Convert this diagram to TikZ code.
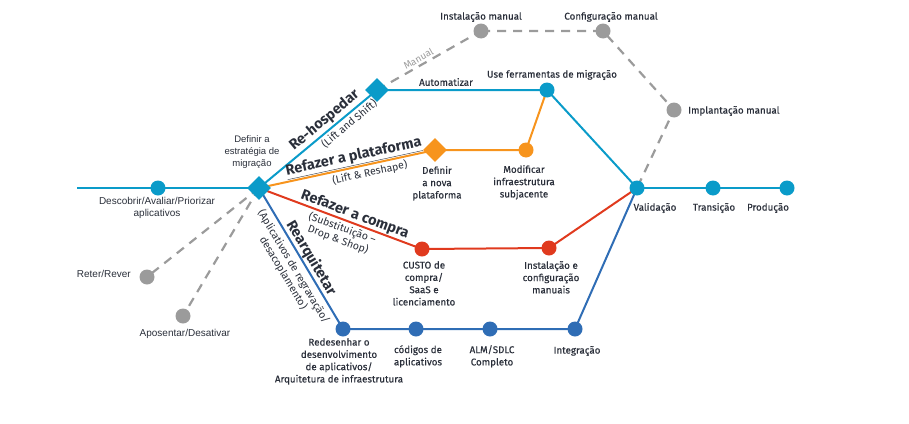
\documentclass[tikz,border=0pt]{standalone}
\usepackage{fontspec}
\setmainfont{Fira Sans}
\newfontfamily\medf{Fira Sans}[FakeBold=0.35]
\newfontfamily\arialf{Liberation Sans}
\usetikzlibrary{shapes.geometric,backgrounds}
\definecolor{lb}{HTML}{0A9BC9}
\definecolor{org}{HTML}{F7941D}
\definecolor{rd}{HTML}{E03A1E}
\definecolor{db}{HTML}{2F6DB5}
\definecolor{gr}{HTML}{9B9B9B}
\definecolor{txt}{HTML}{2A2F3A}
\tikzset{
  mdot/.style={circle, fill=#1, minimum size=15pt, inner sep=0pt},
  mdia/.style={diamond, fill=#1, minimum size=24pt, inner sep=0pt},
  lbl/.style={font=\medf\fontsize{9.8}{12.3}\selectfont, text=txt, align=center, inner sep=0pt},
  albl/.style={font=\arialf\fontsize{10}{12}\selectfont, text=txt, align=center, inner sep=0pt},
  bigl/.style={font=\fontsize{14.5}{15}\selectfont\bfseries, text=txt, inner sep=0.5pt},
  subl/.style={font=\fontsize{10.5}{12}\selectfont, text=txt, align=center, inner sep=2pt},
  ln/.style={line width=2pt, draw=#1},
  dsh/.style={line width=2.2pt, draw=gr, dash pattern=on 9pt off 7pt}
}
\begin{document}
\begin{tikzpicture}[x=1pt,y=-1pt]
\useasboundingbox (0,0) rectangle (909,423);
% nodes
\coordinate (start) at (77,188);
\node[mdot=lb] (disc) at (158,188) {};
\node[mdia=lb] (strat) at (259,188) {};
\node[mdot=gr] (reter) at (147,277) {};
\node[mdot=gr] (apos) at (183,316) {};
\node[mdia=lb] (rehost) at (377,90) {};
\node[mdot=gr] (inst) at (481,31) {};
\node[mdot=gr] (conf) at (603,31) {};
\node[mdot=gr] (impl) at (674,110) {};
\node[mdot=lb] (tools) at (547,90) {};
\node[mdia=org] (defplat) at (435,150) {};
\node[mdot=org] (modif) at (526,150) {};
\node[mdot=rd] (custo) at (422,249) {};
\node[mdot=rd] (instcfg) at (549,248) {};
\node[mdot=db] (redes) at (343,329) {};
\node[mdot=db] (codes) at (416,329) {};
\node[mdot=db] (alm) at (490,329) {};
\node[mdot=db] (integ) at (575,329) {};
\node[mdot=lb] (valid) at (637,188) {};
\node[mdot=lb] (trans) at (713,188) {};
\node[mdot=lb] (prod) at (787,188) {};
% connectors
\begin{scope}[on background layer]
\draw[ln=lb] (start) -- (disc.center) -- (strat.center);
\draw[dsh] (strat.center) -- (reter.center);
\draw[dsh] (strat.center) -- (apos.center);
\draw[ln=lb] (strat.center) -- (rehost.center)
  node[pos=0.61, sloped, above, bigl, inner sep=2pt] {Re-hospedar}
  node[pos=0.72, sloped, below, subl] {(Lift and Shift)};
\draw[dsh] (rehost.center) -- (inst.center)
  node[pos=0.43, sloped, above, subl, text=gr, font=\fontsize{9.8}{11}\selectfont] {Manual};
\draw[dsh] (inst.center) -- (conf.center) -- (impl.center) -- (valid.center);
\draw[ln=lb] (rehost.center) -- (tools.center) -- (valid.center);
\draw[ln=org] (strat.center) -- (defplat.center)
  node[pos=0.55, sloped, above, bigl] {\underline{Refazer a plataforma}}
  node[pos=0.62, sloped, below, subl] {(Lift \& Reshape)};
\draw[ln=org] (defplat.center) -- (modif.center) -- (tools.center);
\draw[ln=rd] (strat.center) -- (custo.center)
  node[pos=0.57, sloped, above, bigl] {Refazer a compra}
  node[pos=0.53, sloped, below, subl] {(Substituição –\\Drop \& Shop)};
\draw[ln=rd] (custo.center) -- (instcfg.center) -- (valid.center);
\draw[ln=db] (strat.center) -- (redes.center)
  node[pos=0.53, sloped, above, bigl] {Rearquitetar}
  node[pos=0.52, sloped, below, subl, inner sep=4pt] {(Aplicativos de regravação/\\desacoplamento)};
\draw[ln=db] (redes.center) -- (codes.center) -- (alm.center) -- (integ.center) -- (valid.center);
\draw[ln=lb] (valid.center) -- (trans.center) -- (prod.center);
\end{scope}
% labels
\node[albl, anchor=north] (tdisc) at (157,197) {Descobrir/Avaliar/Priorizar\\aplicativos};
\node[albl, anchor=east] (treter) at (131,274) {Reter/Rever};
\node[albl, anchor=north] (tapos) at (185,329) {Aposentar/Desativar};
\node[albl, anchor=south, font=\arialf\fontsize{9.5}{12}\selectfont] (tstrat) at (252,169) {Definir a\\estratégia de\\migração};
\node[lbl] (tinst) at (481,17) {Instalação manual};
\node[lbl] (tconf) at (611,17) {Configuração manual};
\node[lbl, anchor=west] (timpl) at (688,111) {Implantação manual};
\node[lbl] (ttools) at (552,75) {Use ferramentas de migração};
\node[lbl] (tauto) at (446,82) {Automatizar};
\node[lbl, anchor=north] (tdef) at (437,166) {Definir\\a nova\\plataforma};
\node[lbl, anchor=north] (tmod) at (524,165) {Modificar\\infraestrutura\\subjacente};
\node[lbl, anchor=north] (tcusto) at (424,261) {CUSTO de\\compra/\\SaaS e\\licenciamento};
\node[lbl, anchor=north] (tinstcfg) at (551,261) {Instalação e\\configuração\\manuais};
\node[lbl, anchor=north] (tredes) at (339,338) {Redesenhar o\\desenvolvimento\\de aplicativos/\\Arquitetura de infraestrutura};
\node[lbl, anchor=north] (tcodes) at (418,345) {códigos de\\aplicativos};
\node[lbl, anchor=north] (talm) at (492,345) {ALM/SDLC\\Completo};
\node[lbl] (tinteg) at (577,351) {Integração};
\node[lbl] (tvalid) at (655,208) {Validação};
\node[lbl] (ttrans) at (714,208) {Transição};
\node[lbl] (tprod) at (768,208) {Produção};
\end{tikzpicture}
\end{document}
